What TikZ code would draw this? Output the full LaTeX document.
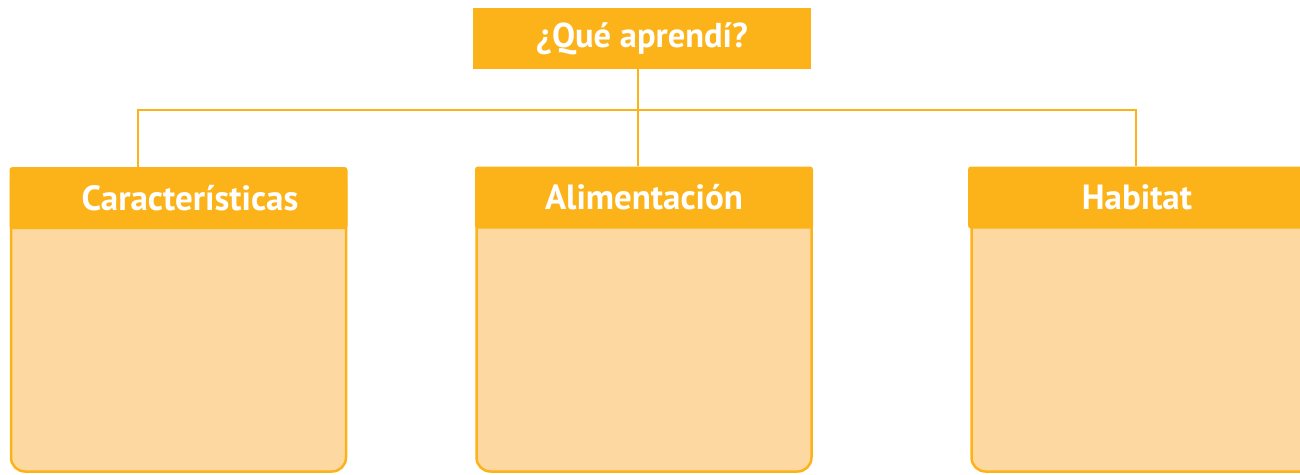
\documentclass[tikz,border=0pt]{standalone}
\usepackage{fontspec}
\setmainfont{PT Sans}
\usetikzlibrary{positioning}
\definecolor{naranja}{HTML}{FCB319}
\definecolor{crema}{HTML}{FDD9A1}
\begin{document}
\begin{tikzpicture}[x=1pt,y=-1pt,
    every node/.style={inner sep=0pt},
    titulo/.style={fill=naranja,text=white,font=\bfseries\fontsize{34.5}{34.5}\selectfont,minimum width=338pt,minimum height=61pt},
    cabeza/.style={fill=naranja,text=white,font=\bfseries\fontsize{35}{35}\selectfont,minimum width=338pt,minimum height=62pt,rounded corners=3pt},
    cuerpo/.style={fill=crema,draw=naranja,line width=2.5pt,rounded corners=14pt,minimum width=335pt,minimum height=303pt},
    enlace/.style={draw=naranja,line width=2.5pt}]
    \useasboundingbox (0,0) rectangle (1300,474);
    % cuerpos
    \node[cuerpo] (bcar) at (178.5,320) {};
    \node[cuerpo] (bali) at (644,320) {};
    \node[cuerpo,minimum width=350pt] (bhab) at (1146.5,320) {};
    % cabeceras
    \node[titulo] (que) at (642,38.5) {¿Qué aprendí?};
    \node[cabeza] (car) at (178.5,198) {\hspace*{23pt}Características};
    \node[cabeza] (ali) at (644,197.5) {Alimentación};
    \node[cabeza,minimum width=350pt] (hab) at (1143,197.5) {\hspace*{-12pt}Habitat};
    % lineas
    \coordinate (bar) at (638,110);
    \draw[enlace] (que.south -| bar) -- (ali.north -| bar);
    \draw[enlace] ([xshift=-40.5pt]car.north) |- (bar) -| ([xshift=-7pt]hab.north);
\end{tikzpicture}
\end{document}
